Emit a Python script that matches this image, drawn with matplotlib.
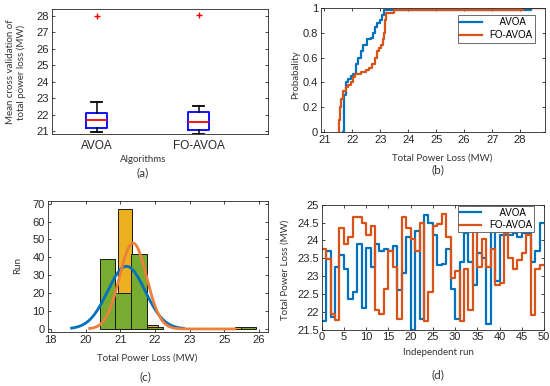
import numpy as np
import matplotlib.pyplot as plt
from matplotlib.lines import Line2D

plt.rcParams['font.family'] = ['Liberation Sans', 'DejaVu Sans']

# (a) box plot statistics
algorithms = ['AVOA', 'FO-AVOA']
box_low = [20.93, 20.83]
box_q1 = [21.17, 21.09]
box_med = [21.70, 21.58]
box_q3 = [22.10, 22.14]
box_high = [22.75, 22.50]
box_outlier = [27.96, 28.06]

# (b) empirical CDF of total power loss
avoa_cdf_loss = [21.68, 21.70, 21.76, 21.85, 21.94, 22.04, 22.12, 22.20, 22.30, 22.39,
                 22.52, 22.66, 22.74, 22.82, 22.90, 22.98, 23.06, 23.14, 28.40]
avoa_cdf_prob = [0.00, 0.30, 0.40, 0.43, 0.45, 0.47, 0.55, 0.60, 0.65, 0.70,
                 0.75, 0.76, 0.80, 0.85, 0.88, 0.90, 0.94, 0.98, 1.00]
fo_cdf_loss = [21.52, 21.53, 21.56, 21.60, 21.66, 21.76, 21.86, 21.96, 22.04, 22.10,
               22.30, 22.48, 22.60, 22.72, 22.82, 22.90, 22.96, 23.04, 23.08, 23.12,
               23.16, 23.20, 23.48, 28.10]
fo_cdf_prob = [0.00, 0.10, 0.20, 0.27, 0.33, 0.36, 0.38, 0.40, 0.44, 0.47,
               0.48, 0.50, 0.52, 0.55, 0.60, 0.65, 0.68, 0.70, 0.75, 0.80,
               0.90, 0.96, 0.98, 1.00]

# (c) histograms with normal fits
green_edges = [20.41, 20.86, 21.32, 21.77, 22.22, 22.67, 23.12, 23.57, 24.02, 24.47, 24.92]
green_counts = [39, 20, 42, 1, 0, 0, 0, 0, 0, 1]
yellow_edges = [20.94, 21.33, 21.76, 22.08, 24.31, 24.47]
yellow_counts = [67, 0, 2, 0, 1]
blue_fit = dict(mu=21.18, sigma=0.54, peak=35, lo=19.60, hi=22.83)
orange_fit = dict(mu=21.37, sigma=0.39, peak=48, lo=20.12, hi=24.30)
hist_tick_pos = [19, 20, 21, 22, 23, 24, 25]
hist_tick_labels = ['18', '20', '21', '22', '23', '25', '26']

# (d) 50 independent runs
avoa_runs = [21.75, 23.70, 21.85, 23.25, 23.60, 23.20, 22.35, 22.55, 23.90, 22.10,
             23.80, 23.25, 23.90, 23.70, 23.75, 23.70, 23.85, 22.60, 23.10, 24.10,
             21.50, 24.25, 21.80, 24.70, 24.50, 24.15, 23.30, 23.35, 23.75, 22.65,
             21.80, 23.40, 24.20, 23.40, 22.75, 23.65, 23.50, 21.65, 24.30, 22.85,
             24.15, 24.15, 24.15, 24.20, 24.10, 24.20, 24.20, 23.40, 23.70, 24.50]
fo_runs = [23.75, 23.47, 21.95, 21.78, 24.35, 23.90, 24.10, 24.65, 24.65, 24.50,
           24.15, 24.40, 22.05, 21.95, 22.65, 23.70, 23.25, 21.80, 24.65, 24.35,
           24.05, 23.70, 24.50, 21.75, 22.55, 24.40, 24.45, 24.75, 24.10, 22.95,
           23.15, 21.75, 23.20, 22.05, 24.40, 23.25, 24.05, 23.25, 23.75, 22.75,
           22.80, 24.20, 23.50, 23.20, 23.45, 23.65, 24.15, 21.90, 23.20, 23.30]

BLUE = '#0072BD'
ORANGE = '#D95319'
W, H = 550, 386
LABEL_FONT = ['Lato', 'DejaVu Sans']
TEXT_COLOR = '#333333'


def px_axes(fig, left, top, right, bottom):
    return fig.add_axes([left / W, 1 - bottom / H, (right - left) / W, (bottom - top) / H])


def fig_text(fig, x, y, s, size=7, **kw):
    fig.text(x / W, 1 - y / H, s, ha='center', va='center', fontsize=size,
             family=LABEL_FONT, color=TEXT_COLOR, **kw)


def matlab_style(ax):
    for sp in ax.spines.values():
        sp.set_linewidth(0.6)
        sp.set_color('#262626')
    ax.tick_params(direction='in', top=True, right=True, length=2.5, width=0.6,
                   labelsize=8, pad=2, colors='#262626')


fig = plt.figure(figsize=(W / 100, H / 100), dpi=100)

# ---------- (a) ----------
ax = px_axes(fig, 51.7, 9, 268, 134)
stats = []
for i, name in enumerate(algorithms):
    stats.append(dict(label=name, whislo=box_low[i], q1=box_q1[i], med=box_med[i],
                      q3=box_q3[i], whishi=box_high[i], fliers=[box_outlier[i]]))
ax.bxp(stats, positions=[1, 2], widths=0.21, capwidths=0.11,
       boxprops=dict(color='blue', linewidth=1.3),
       medianprops=dict(color='red', linewidth=1.3),
       whiskerprops=dict(color='black', linewidth=1.1),
       capprops=dict(color='black', linewidth=1.3),
       flierprops=dict(marker='+', markeredgecolor='red', markersize=4, markeredgewidth=1))
ax.set_xlim(0.56, 2.68)
ax.set_ylim(20.83, 28.4)
ax.set_yticks(range(21, 29))
matlab_style(ax)
ax.tick_params(axis='x', length=0, labelsize=8.5, pad=4)
fig_text(fig, 16, 72, 'Mean cross validation of\ntotal power loss (MW)', rotation=90,
         linespacing=1.25)
fig_text(fig, 143, 160, 'Algorithms')
fig_text(fig, 143, 173, '(a)', size=8.5)

# ---------- (b) ----------
ax = px_axes(fig, 320.7, 8, 545, 132)
ax.set_xlim(20.87, 28.89)
ax.set_ylim(0, 1)
xmax = ax.get_xlim()[1]
ax.step(avoa_cdf_loss + [xmax], avoa_cdf_prob + [avoa_cdf_prob[-1]], where='post',
        color=BLUE, lw=1.6)
ax.step(fo_cdf_loss + [xmax], fo_cdf_prob + [fo_cdf_prob[-1]], where='post',
        color=ORANGE, lw=1.6)
ax.set_xticks(range(21, 29))
ax.set_yticks([0, 0.2, 0.4, 0.6, 0.8, 1])
ax.set_yticklabels(['0', '0.2', '0.4', '0.6', '0.8', '1'])
matlab_style(ax)
handles = [Line2D([], [], color=BLUE, lw=1.6), Line2D([], [], color=ORANGE, lw=1.6)]
leg = ax.legend(handles, ['    AVOA', 'FO-AVOA'], loc='upper right',
                bbox_to_anchor=(1 - 10 / 224.3, 1 - 7 / 124), borderaxespad=0,
                fontsize=7, handlelength=2.2, handletextpad=0.8, labelspacing=0.3,
                borderpad=0.25, fancybox=False, framealpha=1, edgecolor='#555555')
leg.get_frame().set_linewidth(0.6)
fig_text(fig, 296, 75, 'Probabality', rotation=90)
fig_text(fig, 441.7, 158.3, 'Total Power Loss (MW)')
fig_text(fig, 438.3, 170, '(b)', size=8.5)

# ---------- (c) ----------
ax = px_axes(fig, 47.7, 201, 268, 332)
for edges, counts, color in [(yellow_edges, yellow_counts, '#EDB120'),
                             (green_edges, green_counts, '#77AC30')]:
    edges = np.array(edges)
    counts = np.array(counts)
    keep = counts > 0
    ax.bar(edges[:-1][keep], counts[keep], width=np.diff(edges)[keep], align='edge',
           color=color, edgecolor='#1a1a1a', linewidth=0.7)
for fit, color in [(blue_fit, BLUE), (orange_fit, '#EE7F3B')]:
    xs = np.linspace(fit['lo'], fit['hi'], 300)
    ys = fit['peak'] * np.exp(-0.5 * ((xs - fit['mu']) / fit['sigma']) ** 2)
    ax.plot(xs, ys, color=color, lw=2)
ax.set_xlim(18.91, 25.26)
ax.set_ylim(-1.7, 71.5)
ax.set_xticks(hist_tick_pos)
ax.set_xticklabels(hist_tick_labels)
ax.set_yticks(range(0, 71, 10))
matlab_style(ax)
fig_text(fig, 18, 265, 'Run', rotation=90)
fig_text(fig, 147, 358, 'Total Power Loss (MW)')
fig_text(fig, 145, 377, '(c)', size=8.5)

# ---------- (d) ----------
ax = px_axes(fig, 321.7, 204.7, 544, 329.7)
runs = np.arange(len(avoa_runs) + 1)
ax.step(runs, avoa_runs + [avoa_runs[-1]], where='post', color=BLUE, lw=1.6)
ax.step(runs, fo_runs + [fo_runs[-1]], where='post', color=ORANGE, lw=1.6)
ax.set_xlim(0, 50)
ax.set_ylim(21.5, 25)
ax.set_xticks(range(0, 51, 5))
yt = [21.5, 22, 22.5, 23, 23.5, 24, 24.5, 25]
ax.set_yticks(yt)
ax.set_yticklabels(['%g' % v for v in yt])
matlab_style(ax)
handles = [Line2D([], [], color=BLUE, lw=1.6), Line2D([], [], color=ORANGE, lw=1.6)]
leg = ax.legend(handles, ['    AVOA', 'FO-AVOA'], loc='upper right',
                bbox_to_anchor=(1 - 10 / 222.3, 1 - 1 / 125), borderaxespad=0,
                fontsize=7, handlelength=2.2, handletextpad=0.8, labelspacing=0.25,
                borderpad=0.2, fancybox=False, framealpha=1, edgecolor='#555555')
leg.get_frame().set_linewidth(0.6)
fig_text(fig, 285, 270, 'Total Power Loss (MW)', rotation=90)
fig_text(fig, 438.3, 352.3, 'Independent run')
fig_text(fig, 438.3, 374.7, '(d)', size=8.5)

fig.savefig('out.png', dpi=100)
